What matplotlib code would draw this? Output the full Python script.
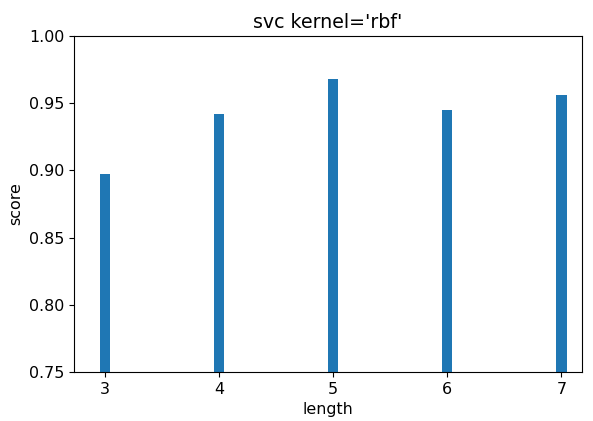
import matplotlib.pyplot as plt

length = [3, 4, 5, 6, 7]
score = [0.897, 0.942, 0.968, 0.945, 0.956]

plt.rcParams['font.size'] = 11.4

fig = plt.figure(figsize=(5.93, 4.21), dpi=100)
ax = fig.add_axes([0.1248, 0.1164, 0.8567, 0.7981])
ax.bar(length, score, width=0.09, color='#1f77b4')
ax.set_ylim(0.75, 1.0)
ax.set_xlim(2.73, 7.18)
ax.set_xticks(length)
ax.set_title("svc kernel='rbf'")
ax.set_xlabel('length')
ax.set_ylabel('score')
fig.savefig('out.png', dpi=100)
